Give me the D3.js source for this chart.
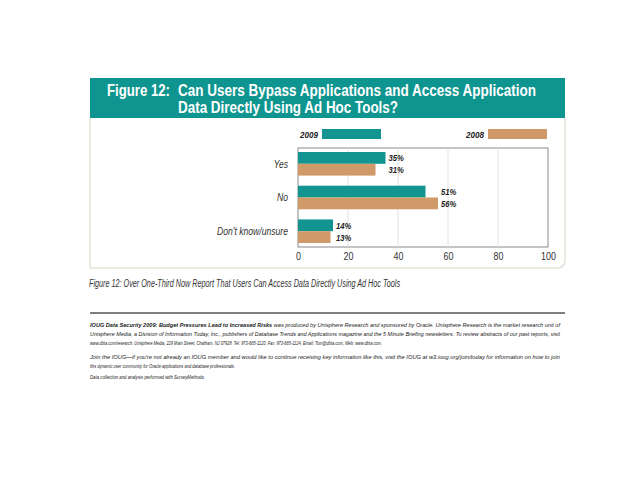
<!DOCTYPE html>
<html><head><meta charset="utf-8">
<script src="https://cdn.jsdelivr.net/npm/d3@7"></script>
<style>
body{margin:0;background:#fff;}
svg{display:block;}
</style></head>
<body>
<svg id="c" width="640" height="480"></svg>
<script>
const categories = ["Yes", "No", "Don't know/unsure"];
const series = ["2009", "2008"];
const values2009 = [35, 51, 14];
const values2008 = [31, 56, 13];
const xTicks = [0, 20, 40, 60, 80, 100];
const colors = {"2009": "#129590", "2008": "#cf9a68"};
const titleLabel = "Figure 12:";
const titleLines = ["Can Users Bypass Applications and Access Application", "Data Directly Using Ad Hoc Tools?"];
const caption = "Figure 12: Over One-Third Now Report That Users Can Access Data Directly Using Ad Hoc Tools";

const font = "'Liberation Sans','Arial',sans-serif";
const svg = d3.select("#c");

function fitW(sel, w) {
  sel.attr("textLength", w).attr("lengthAdjust", "spacingAndGlyphs");
  return sel;
}
function condense(sel, f) {
  sel.each(function () {
    const L = this.getComputedTextLength();
    d3.select(this).attr("textLength", L * f).attr("lengthAdjust", "spacingAndGlyphs");
  });
  return sel;
}

// panel
svg.append("path")
  .attr("d", "M90,118 L90,268 L557,268 Q565,268 565,260 L565,118")
  .attr("fill", "#fff").attr("stroke", "#e6e2da").attr("stroke-width", 1.5);
// header
svg.append("rect").attr("x", 90).attr("y", 78).attr("width", 475).attr("height", 40).attr("fill", "#0f9590");
const tg = svg.append("g").attr("font-family", font).attr("font-weight", "bold").attr("font-size", 16).attr("fill", "#fff");
fitW(tg.append("text").attr("x", 107).attr("y", 96).text(titleLabel), 63);
fitW(tg.append("text").attr("x", 178).attr("y", 96).text(titleLines[0]), 358);
fitW(tg.append("text").attr("x", 178).attr("y", 113).text(titleLines[1]), 220);

// chart
const x = d3.scaleLinear().domain([0, 100]).range([298, 548]);
const y = d3.scaleBand().domain(categories).range([152, 243]).paddingInner(0.3).paddingOuter(0);
const ySub = d3.scaleBand().domain(series).range([0, y.bandwidth()]);

const plot = svg.append("g");
plot.append("rect").attr("x", x(0)).attr("y", 148).attr("width", x(100) - x(0)).attr("height", 99)
  .attr("fill", "#fff").attr("stroke", "#8a8a8a").attr("stroke-width", 1);
plot.selectAll(".grid").data(xTicks.slice(1, -1)).enter().append("line")
  .attr("x1", d => x(d)).attr("x2", d => x(d)).attr("y1", 148).attr("y2", 247)
  .attr("stroke", "#e2e2e2").attr("stroke-width", 1);

const rows = categories.map((c, i) => ({cat: c, max: Math.max(values2009[i], values2008[i]),
  vals: [{s: "2009", v: values2009[i]}, {s: "2008", v: values2008[i]}]}));
const grp = plot.selectAll(".g").data(rows).enter().append("g")
  .attr("transform", d => `translate(0,${y(d.cat)})`);
grp.selectAll("rect").data(d => d.vals).enter().append("rect")
  .attr("x", x(0)).attr("y", d => ySub(d.s)).attr("width", d => x(d.v) - x(0)).attr("height", ySub.bandwidth())
  .attr("fill", d => colors[d.s]);
grp.each(function (r) {
  const g = d3.select(this);
  const lbl = g.selectAll(".v").data(r.vals).enter().append("text")
    .attr("x", x(r.max) + 3).attr("y", d => ySub(d.s) + ySub.bandwidth() / 2 + 3.5)
    .attr("font-family", font).attr("font-style", "italic").attr("font-weight", "bold").attr("font-size", 9)
    .attr("fill", "#222").text(d => d.v + "%");
  condense(lbl, 0.85);
});
const cl = grp.append("text").attr("x", 288).attr("y", y.bandwidth() / 2 + 4).attr("text-anchor", "end")
  .attr("font-family", font).attr("font-style", "italic").attr("font-size", 10.5)
  .attr("fill", "#333").text(d => d.cat);
condense(cl, 0.82);

// axis
const ax = svg.append("g").attr("transform", "translate(0,247)")
  .call(d3.axisBottom(x).tickValues(xTicks).tickSize(0).tickPadding(6));
ax.select(".domain").remove();
ax.selectAll("text").attr("font-family", font).attr("font-size", 10.5).attr("fill", "#333");
condense(ax.selectAll("text"), 0.85);

// legend
const leg = [{s: "2009", tx: 318, rx: 322, rw: 59}, {s: "2008", tx: 484, rx: 488, rw: 59}];
leg.forEach(l => {
  const t = svg.append("text").attr("x", l.tx).attr("y", 138).attr("text-anchor", "end")
    .attr("font-family", font).attr("font-style", "italic").attr("font-weight", "bold").attr("font-size", 9.5)
    .attr("fill", "#222").text(l.s);
  condense(t, 0.85);
  svg.append("rect").attr("x", l.rx).attr("y", 129).attr("width", l.rw).attr("height", 10).attr("fill", colors[l.s]);
});

// caption
fitW(svg.append("text").attr("x", 89).attr("y", 287).attr("font-family", font).attr("font-style", "italic")
  .attr("font-size", 10).attr("fill", "#333").text(caption), 311);

// rule
svg.append("line").attr("x1", 90).attr("x2", 565).attr("y1", 313).attr("y2", 313).attr("stroke", "#555").attr("stroke-width", 1.5);

// footer
const foot = svg.append("g").attr("font-family", font).attr("font-style", "italic").attr("font-size", 6).attr("fill", "#1a1a1a");
const l1 = foot.append("text").attr("x", 90).attr("y", 327);
l1.append("tspan").attr("font-weight", "bold").text("IOUG Data Security 2009: Budget Pressures Lead to Increased Risks");
l1.append("tspan").text(" was produced by Unisphere Research and sponsored by Oracle. Unisphere Research is the market research unit of");
fitW(l1, 470);
fitW(foot.append("text").attr("x", 90).attr("y", 336)
  .text("Unisphere Media, a Division of Information Today, Inc., publishers of Database Trends and Applications magazine and the 5 Minute Briefing newsletters. To review abstracts of our past reports, visit"), 470);
fitW(foot.append("text").attr("x", 90).attr("y", 345)
  .text("www.dbta.com/research. Unisphere Media, 229 Main Street, Chatham, NJ 07928. Tel: 973-665-1120, Fax: 973-665-1124, Email: Tom@dbta.com, Web: www.dbta.com."), 292);
fitW(foot.append("text").attr("x", 90).attr("y", 359)
  .text("Join the IOUG\u2014if you're not already an IOUG member and would like to continue receiving key information like this, visit the IOUG at w3.ioug.org/join/today for information on how to join"), 470);
fitW(foot.append("text").attr("x", 90).attr("y", 368)
  .text("this dynamic user community for Oracle applications and database professionals."), 145);
fitW(foot.append("text").attr("x", 90).attr("y", 379)
  .text("Data collection and analysis performed with SurveyMethods."), 115);
</script>
</body></html>
